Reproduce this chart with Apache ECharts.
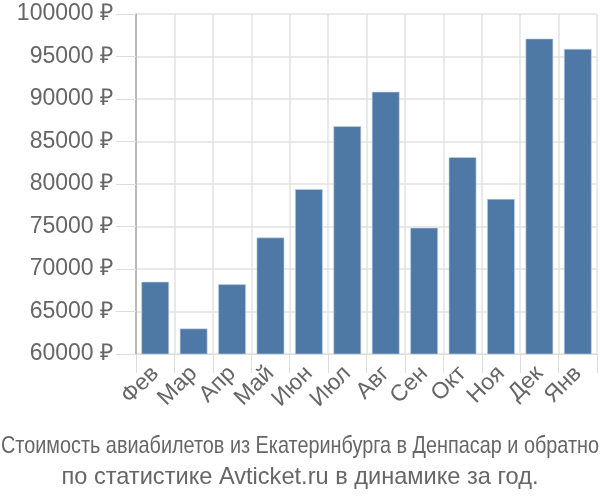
<!DOCTYPE html>
<html>
<head>
<meta charset="utf-8">
<script src="https://cdn.jsdelivr.net/npm/echarts@6/dist/echarts.min.js"></script>
<style>
html,body{margin:0;padding:0;background:#fff;}
#chart{width:600px;height:500px;}
</style>
</head>
<body>
<div id="chart"></div>
<script>
// месяцы и цены
var months = ['Фев','Мар','Апр','Май','Июн','Июл','Авг','Сен','Окт','Ноя','Дек','Янв'];
var prices = [68500,63000,68200,73700,79400,86800,90850,74850,83150,78250,97100,95900];
var yTicks = {min: 60000, max: 100000, step: 5000};
var caption1 = 'Стоимость авиабилетов из Екатеринбурга в Денпасар и обратно';
var caption2 = 'по статистике Avticket.ru в динамике за год.';

// первая строка подписи сжимается по ширине, как в оригинале
var capFont = '23.6px "Liberation Sans"';
var ctx = document.createElement('canvas').getContext('2d');
ctx.font = capFont;
var capScale = Math.min(1, 598 / ctx.measureText(caption1).width);

var chart = echarts.init(document.getElementById('chart'));
var option = {
	animation: false,
	textStyle: {fontFamily: 'Liberation Sans'},
	grid: {
		left: 136,
		right: 3,
		top: 14,
		bottom: 146
	},
	xAxis: {
		type: 'category',
		data: months,
		axisLine: {show: true, lineStyle: {color: '#dddddd'}},
		axisTick: {show: true, length: 19, lineStyle: {color: '#dddddd'}},
		splitLine: {show: true, lineStyle: {color: '#e2e2e2', width: 1.5}},
		axisLabel: {
			rotate: 45,
			interval: 0,
			margin: 16,
			fontSize: 23,
			color: '#666666'
		}
	},
	yAxis: {
		type: 'value',
		min: yTicks.min,
		max: yTicks.max,
		interval: yTicks.step,
		axisLine: {show: true, lineStyle: {color: '#aaaaaa', width: 1.5}},
		axisTick: {show: true, length: 20, lineStyle: {color: '#dddddd'}},
		splitLine: {show: true, lineStyle: {color: '#e2e2e2', width: 1.5}},
		axisLabel: {
			margin: 23,
			fontSize: 23,
			color: '#666666',
			formatter: function (v) { return v + ' ₽'; }
		}
	},
	graphic: [
		{
			type: 'text',
			x: 300,
			y: 446,
			scaleX: capScale,
			style: {text: caption1, font: capFont, fill: '#666666', align: 'center', verticalAlign: 'middle'}
		},
		{
			type: 'text',
			x: 300,
			y: 477,
			style: {text: caption2, font: capFont, fill: '#666666', align: 'center', verticalAlign: 'middle'}
		}
	],
	series: [
		{
			type: 'bar',
			data: prices,
			barCategoryGap: '28%',
			itemStyle: {color: '#4e78a6', borderColor: '#c5d3e3', borderWidth: 0.6}
		}
	]
};
chart.setOption(option);
</script>
</body>
</html>
